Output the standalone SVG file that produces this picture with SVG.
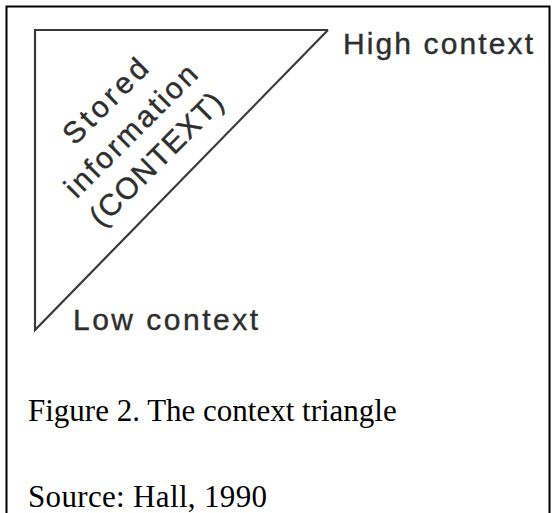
<svg xmlns="http://www.w3.org/2000/svg" width="555" height="513" viewBox="0 0 555 513">
<style>
.scan{font-family:"Liberation Sans",Arial,sans-serif;font-size:30px;fill:#2e2e2e;stroke:#2e2e2e;stroke-width:0.4}
.cap{font-family:"Liberation Serif","Times New Roman",serif;fill:#000}
.edge{fill:none;stroke:#3a3a3a;stroke-width:2.2;stroke-linejoin:miter}
</style>
<rect x="0" y="0" width="555" height="513" fill="#fff"/>
<g id="frame">
<path d="M6.5 520 V6.5 H549.5 V520" fill="none" stroke="#000" stroke-width="2"/>
</g>
<g id="connectors">
<path class="edge" d="M328 30 H35 V330 L328 30"/>
</g>
<g id="triangle-label" transform="translate(138,138) rotate(-45)">
<text class="scan" x="3" y="-39" text-anchor="middle" textLength="107">Stored</text>
<text class="scan" x="0" y="0" text-anchor="middle" textLength="174">information</text>
<text class="scan" x="-2" y="38" text-anchor="middle" textLength="175">(CONTEXT)</text>
</g>
<g id="high">
<text class="scan" x="343" y="54" textLength="190">High context</text>
</g>
<g id="low">
<text class="scan" x="73" y="330" textLength="185">Low context</text>
</g>
<g id="caption">
<text class="cap" x="28" y="421" font-size="31">Figure 2. The context triangle</text>
<text class="cap" x="28" y="507" font-size="31" textLength="239">Source: Hall, 1990</text>
</g>
</svg>
